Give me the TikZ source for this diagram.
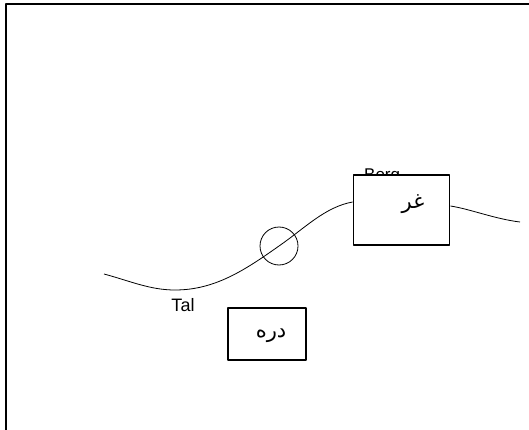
\documentclass[tikz,border=0pt]{standalone}
\usepackage{fontspec}
\setmainfont{Liberation Sans}
\newfontfamily\arabicfont[Script=Arabic]{DejaVu Sans}
\TeXXeTstate=1
\usetikzlibrary{positioning}

\begin{document}
\begin{tikzpicture}[x=1pt,y=-1pt,line join=round,
  labelbox/.style={draw,line width=1.9pt,fill=white,inner sep=0pt},
  artext/.style={font=\arabicfont\fontsize{21}{24}\selectfont},
  every node/.style={font=\fontsize{17}{19}\selectfont}]
\useasboundingbox (0,0) rectangle (529,430);
% frame
\coordinate (fbl) at (5.5,430); \coordinate (ftl) at (5.5,4); \coordinate (ftr) at (529,4);
\draw[line width=2pt] (fbl) -- (ftl) -- (ftr);
% labels and boxes
\node[anchor=north west,inner sep=0pt] (bergtxt) at (364,169) {Berg};
\node[labelbox,minimum width=96pt,minimum height=70pt] (berg) at (401.5,210) {};
\node[artext] (bergar) at (413,204) {\beginR غر\endR};
\node[labelbox,minimum width=78pt,minimum height=52pt] (tal) at (267,334) {};
\node[artext] (talar) at (271,336) {\beginR دره\endR};
\node[font=\fontsize{18}{20}\selectfont] (taltxt) at (183,305) {Tal};
% ridge line
\coordinate (w) at (104,274);
\coordinate (low) at (175,290);
\node[draw,circle,minimum size=38pt,inner sep=0pt,line width=0.8pt] (pass) at (279,246) {};
\coordinate (bw) at (berg.west|-0,202);
\coordinate (be) at (berg.east|-0,206);
\coordinate (e) at (520,222);
\draw[line width=0.8pt] (w) .. controls (130,281) and (150,290) .. (low)
  .. controls (215,290) and (245,270) .. (pass.center)
  .. controls (305,228) and (325,207) .. (bw);
\draw[line width=0.8pt] (be) .. controls (470,209) and (495,219) .. (e);
\end{tikzpicture}
\end{document}
